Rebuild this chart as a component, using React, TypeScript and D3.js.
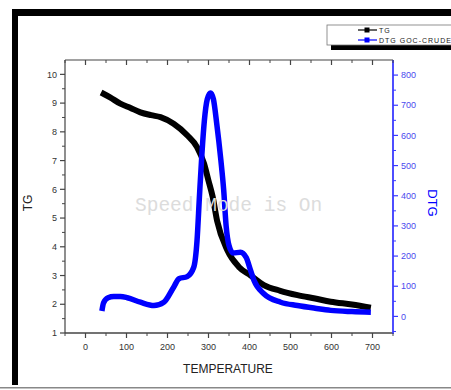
import React from "react";
import * as d3 from "d3";

const tgTemps = [38, 60, 85, 110, 134, 160, 183, 215, 248, 272, 289, 300, 310, 321, 346, 374, 403, 435, 475, 517, 560, 598, 650, 696];
const tgValues = [9.37, 9.2, 8.98, 8.83, 8.68, 8.58, 8.51, 8.28, 7.88, 7.47, 6.9, 6.3, 5.75, 4.9, 3.88, 3.3, 3.0, 2.67, 2.47, 2.32, 2.2, 2.09, 1.99, 1.88];

const dtgTemps = [40, 44, 55, 69, 85, 102, 134, 167, 191, 215, 228, 248, 264, 272, 278, 284, 290, 297, 305, 312, 320, 330, 337, 343, 350, 360, 378, 392, 402, 411, 435, 476, 517, 560, 598, 650, 696];
const dtgValues = [18, 45, 62, 66, 66, 62, 47, 36, 47, 97, 125, 132, 163, 251, 400, 540, 650, 720, 741, 720, 640, 520, 420, 300, 235, 210, 213, 195, 155, 119, 75, 47, 36, 27, 20, 16, 14];

const xTicks = [0, 100, 200, 300, 400, 500, 600, 700];
const xMinor = [-50, 50, 150, 250, 350, 450, 550, 650, 750];
const yLTicks = [1, 2, 3, 4, 5, 6, 7, 8, 9, 10];
const yLMinor = [1.5, 2.5, 3.5, 4.5, 5.5, 6.5, 7.5, 8.5, 9.5];
const yRTicks = [0, 100, 200, 300, 400, 500, 600, 700, 800];
const yRMinor = [-50, 50, 150, 250, 350, 450, 550, 650, 750];

const legendNames = ["TG", "DTG GOC-CRUDE"];

export default function App() {
  const L = 65, R = 393, T = 60, B = 333;
  const x = d3.scaleLinear().domain([-50, 750]).range([L, R]);
  const yL = d3.scaleLinear().domain([1, 10.5]).range([B, T]);
  const yR = d3.scaleLinear().domain([-55, 850]).range([B, T]);

  const tgLine = d3.line<number>().x((d, i) => x(tgTemps[i])).y((d) => yL(d)).curve(d3.curveMonotoneX);
  const dtgLine = d3.line<number>().x((d, i) => x(dtgTemps[i])).y((d) => yR(d)).curve(d3.curveMonotoneX);

  const font = "Liberation Sans, Arial, sans-serif";
  const axisGray = "#444";
  const blue = "#0000ff";
  const axBlue = "#3a3aff";

  return (
    <svg width={451} height={390} style={{ position: "absolute", left: 0, top: 0 }}>
      <rect x={0} y={0} width={451} height={390} fill="#fff" />
      {/* outer frame */}
      <rect x={12} y={9} width={439} height={7} fill="#000" />
      <rect x={12} y={9} width={6} height={376} fill="#000" />
      <rect x={0} y={387} width={451} height={1.5} fill="#888" />

      {/* legend */}
      <rect x={331} y={29} width={125} height={21} fill="#000" />
      <rect x={327} y={25} width={126} height={20} fill="#fff" stroke="#777" strokeWidth={0.8} />
      <line x1={358} x2={377} y1={30} y2={30} stroke="#000" strokeWidth={1.2} />
      <rect x={364.5} y={27.5} width={5} height={5} fill="#000" />
      <text x={379} y={32.5} fontSize={7} fontFamily={font} fill="#222" letterSpacing={1}>{legendNames[0]}</text>
      <line x1={358} x2={377} y1={40} y2={40} stroke={blue} strokeWidth={1.2} />
      <rect x={364.5} y={37.5} width={5} height={5} fill={blue} />
      <text x={379} y={42.5} fontSize={7} fontFamily={font} fill="#222" letterSpacing={1}>{legendNames[1]}</text>

      {/* axes lines */}
      <line x1={L} x2={R} y1={T} y2={T} stroke={axisGray} strokeWidth={1.2} />
      <line x1={L} x2={R} y1={B} y2={B} stroke={axisGray} strokeWidth={1.5} />
      <line x1={L} x2={L} y1={T} y2={B} stroke={axisGray} strokeWidth={1.2} />
      <line x1={R} x2={R} y1={T} y2={B + 1} stroke={axBlue} strokeWidth={1.8} />

      {/* bottom ticks */}
      {xTicks.map((t) => (
        <g key={"xb" + t}>
          <line x1={x(t)} x2={x(t)} y1={B} y2={B + 5} stroke={axisGray} strokeWidth={1.2} />
          <line x1={x(t)} x2={x(t)} y1={T} y2={T + 5} stroke={axisGray} strokeWidth={1.2} />
          <text x={x(t)} y={350} textAnchor="middle" fontSize={9} fontFamily={font} fill="#333">{t}</text>
        </g>
      ))}
      {xMinor.map((t) => (
        <g key={"xm" + t}>
          <line x1={x(t)} x2={x(t)} y1={B} y2={B + 3} stroke={axisGray} strokeWidth={1} />
          <line x1={x(t)} x2={x(t)} y1={T} y2={T + 3} stroke={axisGray} strokeWidth={1} />
        </g>
      ))}

      {/* left ticks */}
      {yLTicks.map((t) => (
        <g key={"yl" + t}>
          <line x1={L - 5} x2={L} y1={yL(t)} y2={yL(t)} stroke={axisGray} strokeWidth={1.2} />
          <text x={L - 8} y={yL(t) + 3.2} textAnchor="end" fontSize={9} fontFamily={font} fill="#333">{t}</text>
        </g>
      ))}
      {yLMinor.map((t) => (
        <line key={"ylm" + t} x1={L - 3} x2={L} y1={yL(t)} y2={yL(t)} stroke={axisGray} strokeWidth={1} />
      ))}

      {/* right ticks */}
      {yRTicks.map((t) => (
        <g key={"yr" + t}>
          <line x1={R} x2={R + 5} y1={yR(t)} y2={yR(t)} stroke={axBlue} strokeWidth={1.2} />
          <text x={R + 8} y={yR(t) + 3.2} textAnchor="start" fontSize={9} fontFamily={font} fill="#4a4aee">{t}</text>
        </g>
      ))}
      {yRMinor.map((t) => (
        <line key={"yrm" + t} x1={R} x2={R + 3} y1={yR(t)} y2={yR(t)} stroke={axBlue} strokeWidth={1} />
      ))}

      {/* axis titles */}
      <text x={228} y={373} textAnchor="middle" fontSize={12} fontFamily={font} fill="#222">TEMPERATURE</text>
      <text transform="translate(32,203) rotate(-90)" textAnchor="middle" fontSize={12} fontFamily={font} fill="#222">TG</text>
      <text transform="translate(428,203) rotate(90)" textAnchor="middle" fontSize={13} fontFamily={font} fill={blue}>DTG</text>

      {/* data */}
      <path d={tgLine(tgValues) || ""} fill="none" stroke="#000" strokeWidth={6} strokeLinejoin="round" />
      <path d={dtgLine(dtgValues) || ""} fill="none" stroke={blue} strokeWidth={5.5} strokeLinejoin="round" />

      {/* watermark */}
      <text x={135} y={211} fontSize={19.5} fontFamily="Liberation Mono, DejaVu Sans Mono, monospace" fill="#dcdcdc">Speed Mode is On</text>
    </svg>
  );
}
